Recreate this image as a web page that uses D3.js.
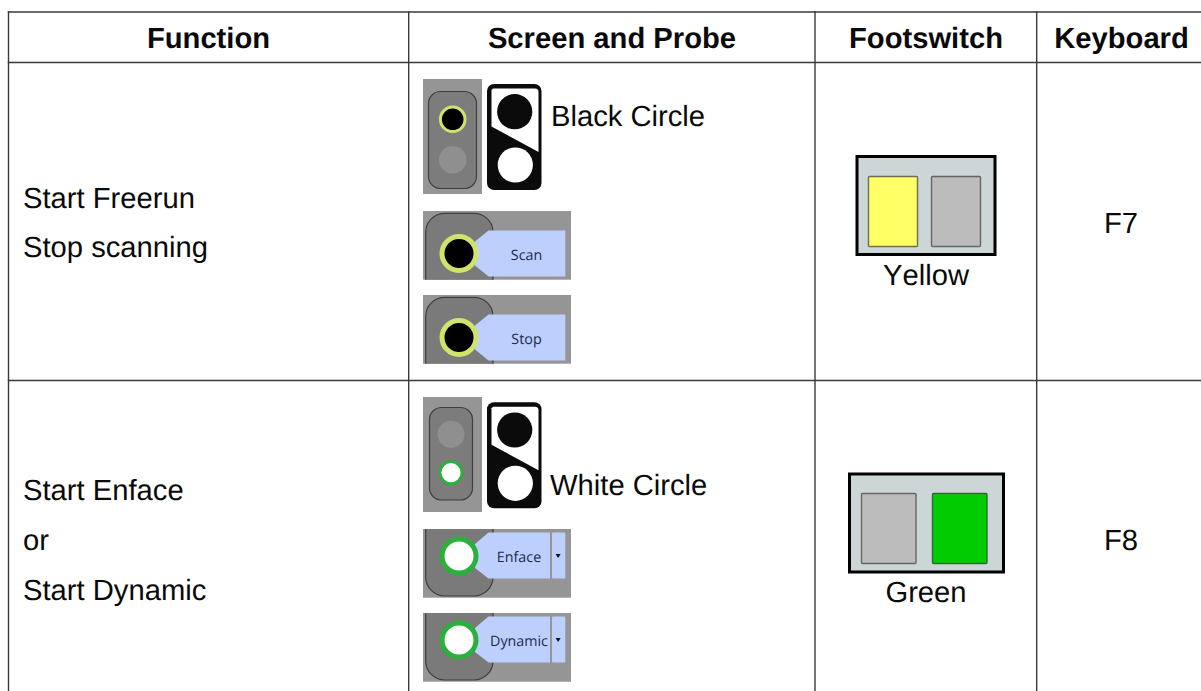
<!DOCTYPE html>
<html><head><meta charset="utf-8">
<script src="https://cdn.jsdelivr.net/npm/d3@7/dist/d3.min.js"></script>
<style>html,body{margin:0;padding:0;background:#fff;overflow:hidden}svg{display:block}
text{font-kerning:none;text-rendering:geometricPrecision}</style>
</head><body><div id="c"></div>
<script>
const headers = ["Function","Screen and Probe","Footswitch","Keyboard"];
const functionLines = [["Start Freerun","Stop scanning"],["Start Enface","or","Start Dynamic"]];
const probeLabels = ["Black Circle","White Circle"];
const buttonLabels = [["Scan","Stop"],["Enface","Dynamic"]];
const footswitchLabels = ["Yellow","Green"];
const keyboardKeys = ["F7","F8"];

const W=1201,H=691;
const svg=d3.select("#c").append("svg").attr("width",W).attr("height",H);
const FONT="'Liberation Sans',Arial,sans-serif";
const UI="'Open Sans',sans-serif";
const colEdges=[8.5,408.7,815,1036.7,1201], rowEdges=[12,62.5,380.5,691];
const col=d3.scaleOrdinal().domain(d3.range(4)).range(colEdges.slice(0,4));
const colR=d3.scaleOrdinal().domain(d3.range(4)).range(colEdges.slice(1));

const grid=svg.append("g").attr("stroke","#3a3a3a").attr("stroke-width",1.4);
rowEdges.slice(0,3).forEach(y=>grid.append("line").attr("x1",7.8).attr("x2",W).attr("y1",y).attr("y2",y));
colEdges.slice(0,4).forEach(x=>grid.append("line").attr("x1",x).attr("x2",x).attr("y1",11.3).attr("y2",H));

function txt(g,x,y,s,o={}){
  return g.append("text").attr("x",x).attr("y",y).text(s)
   .attr("font-family",o.f||FONT).attr("font-size",o.s||29.2).attr("font-weight",o.w||"normal")
   .attr("text-anchor",o.a||"start").attr("fill",o.c||"#0a0a0a");
}
const headerX=[208.5,612,926,1121.5];
headers.forEach((h,i)=>txt(svg,headerX[i],48,h,{w:"bold",a:"middle"}));

const fnBase=[[208,257],[500,550,600]];
functionLines.forEach((ls,r)=>ls.forEach((l,i)=>txt(svg,23,fnBase[r][i],l)));

keyboardKeys.forEach((k,r)=>txt(svg,1121,[233,550][r],k,{a:"middle"}));

function rr(g,x,y,w,h,r,fill,stroke,sw){
  return g.append("rect").attr("x",x).attr("y",y).attr("width",w).attr("height",h).attr("rx",r)
   .attr("fill",fill).attr("stroke",stroke||"none").attr("stroke-width",sw||0);
}
const BG="#959595",DARK="#7c7c7c",EDGE="#3f3f3f",BLUE="#bdd0fd",YG="#d2e36a",GR="#2bb03c";

function panel(y0,v,active){
  const g=svg.append("g");
  rr(g,423,y0,59,115,0,BG);
  const c=active==0;
  rr(g,v.x0,v.y0,v.w,v.h,12,DARK,EDGE,1.2);
  g.append("circle").attr("cx",v.cx).attr("cy",v.c1).attr("r",c?12.3:13.5).attr("fill",c?"#000":"#8f8f8f")
    .attr("stroke",c?YG:"none").attr("stroke-width",c?3:0);
  g.append("circle").attr("cx",v.cx).attr("cy",v.c2).attr("r",c?13.8:11).attr("fill",c?"#8f8f8f":"#fff")
    .attr("stroke",c?"none":GR).attr("stroke-width",c?0:2.8);
}
panel(79,{x0:428.5,y0:91.5,w:48,h:97,cx:452.7,c1:119.3,c2:159.7},0);
panel(397,{x0:429.5,y0:407.5,w:43,h:92.5,cx:451,c1:434.3,c2:472.7},1);

function glyph(y0){
  const g=svg.append("g").attr("transform",`translate(487,${y0})`);
  rr(g,0,0,54.5,106,7,"#0b0b0b");
  g.append("path").attr("d","M6,4.5 H48 Q51.5,4.5 51.5,8 V68 L4.5,42.5 V6 Z").attr("fill","#fff");
  g.append("circle").attr("cx",27.7).attr("cy",27.7).attr("r",17.6).attr("fill","#0b0b0b");
  g.append("circle").attr("cx",28.3).attr("cy",81).attr("r",17.6).attr("fill","#fff");
}
glyph(84); glyph(402.3);
probeLabels.forEach((l,i)=>txt(svg,[551,550][i],[126,495][i],l));

function button(y0,label,kind){
  const g=svg.append("g");
  rr(g,423,y0,148,68.7,0,BG);
  const clipId="cb"+Math.round(y0);
  g.append("clipPath").attr("id",clipId).append("rect").attr("x",423).attr("y",y0).attr("width",148).attr("height",68.7);
  const d=g.append("g").attr("clip-path",`url(#${clipId})`);
  if(kind==0) rr(d,425.7,y0+2.3,67.3,110,19,"#7a7a7a",EDGE,1.2);
  else rr(d,425.7,y0-45,67.3,112,19,"#7a7a7a",EDGE,1.2);
  const t=y0+19.5-(kind?16:0), b=t+46, cy=y0+42.5-(kind?15.5:0);
  const right=kind?550:565.3;
  g.append("path").attr("d",`M475,${cy-12} L488.5,${t} H${right} V${b} H488.5 L475,${cy+12} Z`).attr("fill",BLUE);
  if(kind) {
    rr(g,552,t,13.3,46,1,BLUE);
    g.append("path").attr("d",`M555.6,${cy-2} h5 l-2.5,4 Z`).attr("fill","#111");
  }
  g.append("circle").attr("cx",459).attr("cy",cy).attr("r",17).attr("fill",kind?"#fff":"#000")
    .attr("stroke",kind?GR:YG).attr("stroke-width",5);
  txt(g,kind?519:526.5,cy+6,label,{f:UI,s:14.3,a:"middle",c:"#1b2a4a"});
}
buttonLabels.forEach((ls,r)=>ls.forEach((l,i)=>button((r?529:211)+84*i,l,r)));

function pedal(v,on,label,lx,ly){
  const g=svg.append("g");
  rr(g,v.x,v.y,v.w,v.h,0,"#cdd6d6","#000",3);
  rr(g,v.a,v.ry,v.rw,70,1,on==0?"#ffff66":"#bcbcbc",on==0?"#6f6f50":"#666",1.4);
  rr(g,v.b,v.ry,v.rw,70,1,on==1?"#00cc00":"#bcbcbc",on==1?"#2f6b2f":"#666",1.4);
  txt(g,lx,ly,label,{a:"middle"});
}
pedal({x:857,y:156.5,w:138,h:98,a:868.5,b:931.5,ry:176.5,rw:49},0,footswitchLabels[0],926,285);
pedal({x:849.5,y:474,w:154,h:98,a:861.5,b:932.5,ry:493.5,rw:54.5},1,footswitchLabels[1],926,602);
</script></body></html>
